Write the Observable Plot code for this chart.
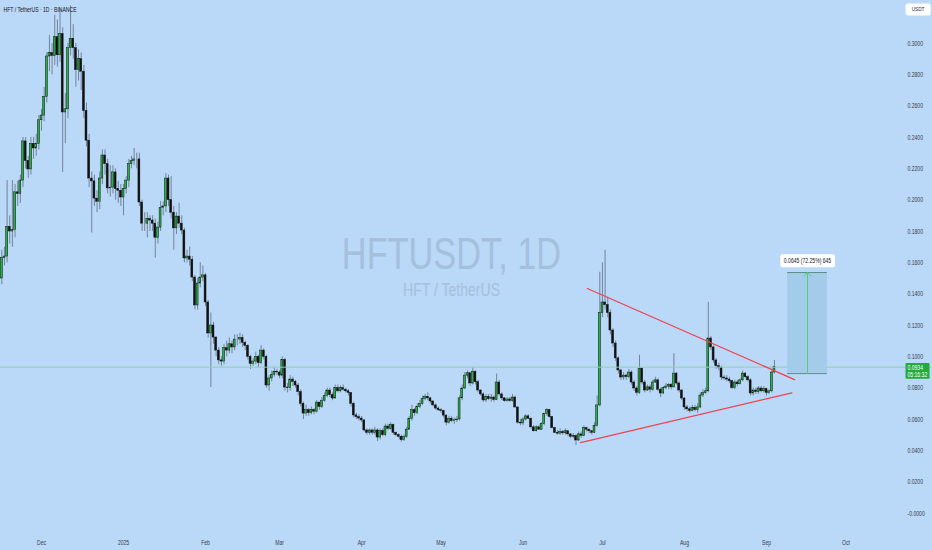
<!DOCTYPE html>
<html><head><meta charset="utf-8">
<script src="https://cdn.jsdelivr.net/npm/d3@7"></script>
<script src="https://cdn.jsdelivr.net/npm/@observablehq/plot@0.6"></script>
<style>html,body{margin:0;padding:0;background:#bad8f8;} #chart{width:932px;height:550px;overflow:hidden;}</style>
</head><body><div id="chart"></div>
<script>
// ---- data (daily candles, first candle 2024-11-16) ----
const startDate = "2024-11-16";
const firstOpen = 0.150;
const closes = [
.163,.164,.183,.180,.181,.205,.204,.2125,.2375,.225,
.2196,.236,.233,.236,.251,.254,.266,.2917,.294,.292,
.304,.2925,.306,.256,.258,.297,.303,.297,.283,.290,
.282,.257,.238,.2138,.212,.201,.199,.2138,.2285,.223,
.2075,.208,.2177,.207,.206,.2017,.207,.2125,.223,.225,
.226,.226,.1985,.185,.185,.188,.187,.185,.176,.1825,
.195,.196,.2138,.200,.192,.182,.1895,.185,.1806,.1628,
.164,.162,.1506,.1328,.1468,.1506,.152,.1347,.1149,.120,
.1123,.104,.0977,.097,.1055,.104,.108,.106,.111,.111,
.112,.109,.107,.100,.0955,.097,.100,.096,.104,.100,
.0817,.0862,.0885,.0905,.090,.088,.098,.0804,.080,.0855,
.084,.0817,.0775,.070,.0638,.066,.064,.066,.065,.0708,
.068,.072,.075,.0785,.0755,.0734,.080,.078,.080,.079,
.078,.077,.070,.0626,.0615,.0606,.0594,.053,.0515,.053,
.0515,.053,.0485,.0526,.050,.0555,.054,.0565,.0515,.050,
.049,.0468,.049,.0535,.0605,.066,.064,.068,.070,.073,
.0745,.0735,.0715,.069,.067,.066,.0655,.0625,.058,.0605,
.059,.0595,.060,.0735,.0798,.088,.0895,.083,.0905,.0838,
.0785,.076,.0722,.0745,.073,.074,.0725,.0836,.076,.0735,
.0718,.0728,.0718,.074,.0677,.058,.0575,.060,.062,.0605,
.055,.0525,.055,.0535,.057,.0636,.066,.0616,.0545,.0515,
.051,.052,.0512,.0525,.0505,.049,.0495,.0466,.0505,.0495,
.0545,.0535,.0525,.0515,.056,.069,.128,.1347,.1330,.128,
.1168,.1085,.099,.0913,.0868,.088,.087,.090,.0836,.0798,
.077,.0925,.0836,.0785,.0805,.079,.0836,.085,.079,.0766,
.080,.081,.082,.0805,.0893,.083,.0785,.0734,.0677,.0665,
.0655,.0675,.066,.0677,.0753,.0768,.078,.1117,.106,.0977,
.094,.093,.0868,.0862,.0855,.0845,.080,.0836,.0825,.085,
.0893,.087,.085,.0766,.0785,.0775,.0798,.078,.0795,.077,
.078,.090,.0934
];
const highs = [
.168,.170,.2125,.190,.2125,.210,.212,.216,.240,.240,
.228,.240,.240,.242,.254,.258,.272,.294,.305,.300,
.318,.315,.322,.310,.268,.300,.324,.312,.300,.296,
.294,.286,.262,.242,.218,.216,.206,.218,.232,.232,
.226,.222,.222,.220,.212,.210,.210,.215,.226,.228,
.233,.230,.230,.200,.192,.192,.190,.190,.188,.186,
.199,.199,.217,.216,.215,.196,.192,.198,.190,.182,
.168,.170,.164,.152,.150,.160,.158,.153,.136,.128,
.122,.113,.106,.100,.108,.110,.112,.110,.114,.114,
.115,.114,.110,.108,.101,.099,.103,.101,.107,.105,
.101,.088,.091,.093,.092,.091,.100,.099,.083,.088,
.087,.085,.083,.079,.071,.069,.067,.068,.067,.072,
.071,.074,.077,.080,.080,.077,.082,.082,.0815,.082,
.080,.079,.077,.071,.064,.063,.062,.060,.054,.054,
.054,.055,.054,.054,.054,.057,.057,.058,.057,.052,
.051,.050,.050,.055,.062,.069,.067,.070,.072,.075,
.076,.077,.074,.072,.070,.068,.067,.066,.063,.062,
.062,.061,.062,.075,.082,.090,.091,.090,.093,.091,
.085,.079,.077,.076,.076,.076,.075,.089,.085,.077,
.074,.074,.074,.076,.075,.068,.060,.061,.063,.063,
.061,.056,.056,.056,.058,.064,.067,.066,.062,.055,
.053,.054,.053,.054,.053,.051,.051,.050,.052,.052,
.056,.055,.054,.053,.058,.075,.154,.160,.168,.138,
.130,.118,.110,.100,.092,.090,.089,.092,.091,.085,
.081,.101,.093,.085,.082,.082,.085,.087,.086,.080,
.081,.083,.083,.083,.102,.090,.084,.079,.074,.069,
.068,.069,.069,.070,.077,.079,.080,.1347,.113,.107,
.099,.096,.094,.088,.088,.087,.085,.085,.085,.086,
.091,.090,.088,.086,.080,.080,.081,.081,.081,.080,
.079,.091,.0977
];
const lows = [
.146,.158,.160,.172,.170,.176,.196,.198,.208,.220,
.214,.216,.226,.228,.232,.244,.250,.262,.282,.280,
.286,.285,.288,.2177,.236,.252,.292,.290,.272,.276,
.270,.252,.234,.208,.179,.196,.192,.194,.210,.216,
.204,.202,.204,.200,.198,.196,.190,.204,.208,.220,
.222,.220,.196,.180,.180,.176,.180,.180,.163,.172,
.180,.190,.192,.196,.188,.168,.178,.182,.178,.160,
.160,.158,.148,.130,.130,.144,.148,.132,.112,.0804,
.108,.100,.095,.094,.095,.100,.102,.102,.104,.107,
.108,.106,.104,.098,.092,.094,.095,.093,.095,.098,
.080,.078,.084,.087,.088,.086,.086,.078,.077,.078,
.081,.080,.075,.068,.060,.062,.062,.063,.063,.064,
.066,.067,.071,.074,.074,.072,.073,.077,.077,.078,
.077,.075,.068,.061,.060,.059,.058,.052,.050,.050,
.050,.050,.046,.047,.049,.049,.053,.053,.050,.049,
.048,.0455,.046,.048,.053,.059,.062,.063,.067,.069,
.072,.072,.070,.068,.066,.065,.064,.061,.056,.057,
.058,.057,.058,.059,.072,.079,.086,.081,.082,.082,
.077,.075,.071,.071,.072,.071,.071,.072,.075,.072,
.071,.071,.071,.071,.067,.057,.056,.056,.059,.060,
.054,.052,.052,.053,.053,.056,.062,.061,.054,.051,
.050,.050,.050,.050,.049,.048,.048,.0434,.046,.048,
.049,.052,.051,.050,.051,.055,.068,.125,.130,.125,
.114,.106,.097,.089,.085,.085,.085,.086,.082,.078,
.075,.076,.082,.077,.078,.077,.078,.083,.078,.074,
.076,.079,.079,.079,.080,.082,.077,.072,.066,.065,
.064,.065,.065,.064,.067,.074,.076,.077,.104,.096,
.092,.091,.085,.085,.084,.083,.079,.079,.081,.082,
.084,.086,.084,.075,.075,.076,.076,.077,.077,.075,
.076,.077,.089
];
const yTickValues = [0.30,0.28,0.26,0.24,0.22,0.20,0.18,0.16,0.14,0.12,0.10,0.08,0.06,0.04,0.02,0];
const yTickLabels = ["0.3000","0.2800","0.2600","0.2400","0.2200","0.2000","0.1800","0.1600","0.1400","0.1200","0.1000","0.0800","0.0600","0.0400","0.0200","-0.0000"];
const monthTicks = ["2024-12-01","2025-01-01","2025-02-01","2025-03-01","2025-04-01","2025-05-01","2025-06-01","2025-07-01","2025-08-01","2025-09-01","2025-10-01"];
const monthLabels = ["Dec","2025","Feb","Mar","Apr","May","Jun","Jul","Aug","Sep","Oct"];
const upperLine = [{date:"2025-06-25T07:00Z", price:0.1436},{date:"2025-09-11T14:00Z", price:0.0855}];
const lowerLine = [{date:"2025-06-22T17:00Z", price:0.0453},{date:"2025-09-10T14:00Z", price:0.0770}];
const measureBox = {start:"2025-09-09T00:00Z", end:"2025-09-24T00:00Z", low:0.0893, high:0.1538};
const measureText = "0.0645 (72.25%) 645";
const lastPriceText = "0.0934\n05:16:32";
const titleText = "HFT / TetherUS · 1D · BINANCE";
const watermark = "HFTUSDT, 1D";
const watermarkSub = "HFT / TetherUS";
const currency = "USDT";

// ---- build table ----
const t0 = new Date(startDate + "T00:00Z");
const candles = closes.map((c, i) => {
  const o = i ? closes[i - 1] : firstOpen;
  return {date: d3.utcDay.offset(t0, i), open: o, close: c,
          high: Math.max(highs[i], o, c), low: Math.min(lows[i], o, c), up: c >= o};
});
const lastPrice = closes[closes.length - 1];
const half = 0.36 * 864e5;
const mb = [{...measureBox, s: new Date(measureBox.start), e: new Date(measureBox.end),
  m: new Date((+new Date(measureBox.start) + +new Date(measureBox.end)) / 2)}];

const font = "'Liberation Sans', Arial, sans-serif";
const svg = Plot.plot({
  width: 932, height: 550, margin: 0,
  style: {background: "#bad8f8", fontFamily: font, overflow: "visible"},
  x: {type: "utc", domain: [new Date("2024-12-01"), new Date("2025-09-01")], range: [41, 766], axis: null},
  y: {type: "linear", domain: [0, 0.3], range: [513, 43], axis: null},
  marks: [
    Plot.text([watermark], {text: d => d, frameAnchor: "middle", dx: -15, dy: -21, fontSize: 44, fill: "#a5c0dc", lineAnchor: "middle"}),
    Plot.text([watermarkSub], {text: d => d, frameAnchor: "middle", dx: -15, dy: 15, fontSize: 18, fill: "#a5c0dc", lineAnchor: "middle"}),
    Plot.ruleX(candles, {x: "date", y1: "low", y2: "high", stroke: "#6a7b8d", strokeWidth: 0.9}),
    Plot.rect(candles, {x1: d => new Date(+d.date - half), x2: d => new Date(+d.date + half),
      y1: d => Math.min(d.open, d.close), y2: d => Math.max(d.open, d.close),
      fill: d => d.up ? "#22b43c" : "#111111", stroke: "#111111", strokeWidth: 0.5}),
    Plot.ruleY([lastPrice], {stroke: "#8dd3ae", strokeWidth: 1}),
    Plot.line(upperLine, {x: d => new Date(d.date), y: "price", stroke: "#f0424f", strokeWidth: 1.3}),
    Plot.line(lowerLine, {x: d => new Date(d.date), y: "price", stroke: "#f0424f", strokeWidth: 1.3}),
    Plot.rect(mb, {x1: "s", x2: "e", y1: "low", y2: "high", fill: "#a2cce9"}),
    Plot.ruleY(mb, {x1: "s", x2: "e", y: "low", stroke: "#5d8f88", strokeWidth: 1}),
    Plot.ruleY(mb, {x1: "s", x2: "e", y: "high", stroke: "#5d8f88", strokeWidth: 1}),
    Plot.arrow(mb, {x1: "m", x2: "m", y1: "low", y2: "high", stroke: "#5ccb76", strokeWidth: 1, headLength: 7, headAngle: 90}),
    Plot.text(mb, {x: "m", y: "high", dy: -12, text: () => measureText, fontSize: 6.5, fill: "#131722", lineAnchor: "middle", className: "mlabel"}),
    Plot.text(yTickValues, {y: d => d, text: (d, i) => yTickLabels[i], frameAnchor: "right", dx: -25, textAnchor: "start", lineAnchor: "middle", fontSize: 6.5, fill: "#3a3e48"}),
    Plot.text(monthTicks, {x: d => new Date(d), text: (d, i) => monthLabels[i], frameAnchor: "bottom", dy: -8, lineAnchor: "middle", fontSize: 6.5, fill: "#3a3e48"}),
    Plot.text([titleText], {text: d => d, frameAnchor: "top-left", dx: 3, dy: 9.5, textAnchor: "start", lineAnchor: "middle", fontSize: 6.5, fill: "#131722"}),
    Plot.text([currency], {text: d => d, frameAnchor: "top-right", dx: -14.5, dy: 9, textAnchor: "middle", lineAnchor: "middle", fontSize: 6, fill: "#2a2340", className: "usdt"}),
    Plot.text([lastPrice], {y: d => d, text: () => lastPriceText, frameAnchor: "right", dx: -25, dy: 4, textAnchor: "start", lineAnchor: "middle", lineHeight: 1.1, fontSize: 6.5, fill: "#ffffff", className: "plabel"})
  ]
});
document.getElementById("chart").append(svg);

// horizontally condensed lettering, as in the reference
const squeeze = 0.78;
svg.querySelectorAll("text").forEach(t => {
  const spans = t.querySelectorAll("tspan");
  const els = spans.length ? Array.from(spans) : [t];
  els.forEach(el => {
    const L = el.getComputedTextLength();
    if (L > 0) { el.setAttribute("textLength", L * squeeze); el.setAttribute("lengthAdjust", "spacingAndGlyphs"); }
  });
});

function labelBg(cls, fill, px, py, rx) {
  const g = svg.querySelector("g." + cls);
  if (!g) return;
  const b = g.getBBox();
  const r = document.createElementNS("http://www.w3.org/2000/svg", "rect");
  r.setAttribute("x", b.x - px); r.setAttribute("y", b.y - py);
  r.setAttribute("width", b.width + 2 * px); r.setAttribute("height", b.height + 2 * py);
  r.setAttribute("rx", rx); r.setAttribute("fill", fill); r.setAttribute("stroke", "none");
  g.insertBefore(r, g.firstChild);
}
labelBg("mlabel", "#ffffff", 3.5, 2.5, 2);
labelBg("usdt", "#ffffff", 6, 3, 2);
labelBg("plabel", "#22ab3a", 2, 0.8, 1);
</script>
</body></html>
